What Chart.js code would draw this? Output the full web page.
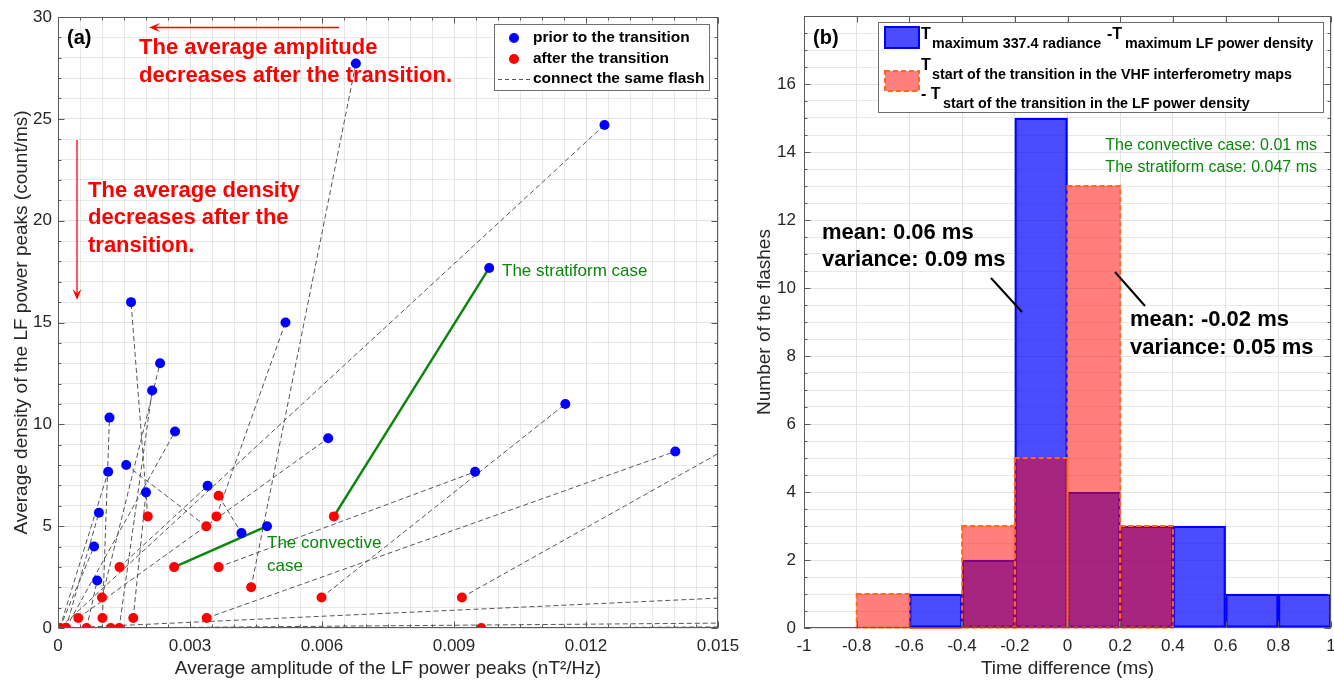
<!DOCTYPE html>
<html><head><meta charset="utf-8">
<script src="https://cdn.jsdelivr.net/npm/chart.js@4.4.1/dist/chart.umd.min.js"></script>
<style>
html,body{margin:0;padding:0;background:#fff;width:1334px;height:682px;overflow:hidden;}
#wa{position:absolute;left:0;top:0;width:740px;height:682px;}
#wb{position:absolute;left:740px;top:0;width:594px;height:682px;}
canvas{display:block;}
</style></head><body>
<div id="wa"><canvas id="ca" width="740" height="682"></canvas></div>
<div id="wb"><canvas id="cb" width="594" height="682"></canvas></div>
<script>
// ---------------- Panel (a) data: one entry per flash (after -> prior) ----------------
const redX  = [0.00627,0.00264,0.00439,0.00004,0.00204,0.00360,0.00100,0.00139,0.00101,0.00018,0.00046,0.00599,0.00338,0.00365,0.00337,0.00004,0.00171,0.00140,0.00018,0.00365,0.00004,0.00065,0.00918,0.00018,0.00120,0.00962];
const redY  = [5.48,2.99,2.0,0,5.48,5.48,1.5,0,0.49,0,0.49,1.5,0.49,2.99,4.99,0,0.49,2.99,0,6.49,0,0,1.5,0,0,0];
const blueX = [0.00980,0.00475,0.00677,0.01242,0.00166,0.00517,0.00232,0.00214,0.00117,0.00266,0.00614,0.01153,0.01403,0.00948,0.00155,0.00114,0.00200,0.00340,0.00093,0.00417,0.00082,0.00089,0.0180,0.0300,0.0300,0.0300];
const blueY = [17.68,5.0,27.72,24.7,16.0,15.0,13.0,11.66,10.33,9.65,9.32,11.0,8.67,7.67,8.0,7.67,6.66,6.98,5.66,4.66,4.0,2.33,12.2,2.95,0.5,0.2];
const caseFlashes = [0, 1];            // stratiform, convective (green)
const xTicksA = [0, 0.003, 0.006, 0.009, 0.012, 0.015];
const yTicksA = [0, 5, 10, 15, 20, 25, 30];

// ---------------- Panel (b) data ----------------
const binCenters = [-0.9,-0.7,-0.5,-0.3,-0.1,0.1,0.3,0.5,0.7,0.9];
const blueCounts = [null,null,1,2,15,4,3,3,1,1];
const redCounts  = [null,1,0,3,5,13,3,null,null,null];
const xTicksB = [-1,-0.8,-0.6,-0.4,-0.2,0,0.2,0.4,0.6,0.8,1];
const yTicksB = [0,2,4,6,8,10,12,14,16];

const FONT = "'Liberation Sans', Arial, Helvetica, sans-serif";
const AXIS = '#5a5a5a', TXT = '#262626';
const GMAJ = '#e2e2e2', GMIN = 'rgba(0,0,0,0.09)';
const GREEN = '#0a870a';

function setTicks(vals){ return s => { s.ticks = vals.map(v => ({value:v})); }; }
function fitW(w){ return s => { s.width = w; s.paddingTop = 0; s.paddingBottom = 0; s.paddingLeft = 0; s.paddingRight = 0; }; }
function fitH(h){ return s => { s.height = h; s.paddingLeft = 0; s.paddingRight = 0; s.paddingTop = 0; s.paddingBottom = 0; }; }

function minorAxis(axis, pos, min, max, step, majors){
  return { type:'linear', axis:axis, position:pos, min:min, max:max, display:true,
    ticks:{display:false, stepSize:step, autoSkip:false},
    border:{display:false},
    grid:{drawTicks:false, lineWidth:1, borderDash:[1,3],
      color: c => (majors.some(m => Math.abs(m - c.tick.value) < 1e-9) ? 'rgba(0,0,0,0)' : GMIN)},
    afterFit: axis === 'x' ? fitH(0) : fitW(0) };
}

function boxTicks(chart, spec){
  const ctx = chart.ctx, a = chart.chartArea;
  ctx.save();
  ctx.strokeStyle = AXIS; ctx.lineWidth = 1; ctx.setLineDash([]);
  const L = Math.round(a.left)+0.5, R = Math.round(a.right)-0.5, T = Math.round(a.top)+0.5, B = Math.round(a.bottom)-0.5;
  ctx.beginPath();
  spec.x.forEach(([id,len]) => { const s = chart.scales[id];
    s.ticks.forEach(t => { const p = Math.round(s.getPixelForValue(t.value))+0.5;
      ctx.moveTo(p,B); ctx.lineTo(p,B-len); ctx.moveTo(p,T); ctx.lineTo(p,T+len); }); });
  spec.y.forEach(([id,len]) => { const s = chart.scales[id];
    s.ticks.forEach(t => { const p = Math.round(s.getPixelForValue(t.value))+0.5;
      ctx.moveTo(L,p); ctx.lineTo(L+len,p); ctx.moveTo(R,p); ctx.lineTo(R-len,p); }); });
  ctx.stroke();
  ctx.strokeRect(L, T, R-L, B-T);
  ctx.restore();
}

function arrow(ctx, x1, y1, x2, y2, color){
  const ang = Math.atan2(y2-y1, x2-x1), hl = 11, hw = 4.5;
  ctx.save(); ctx.strokeStyle = color; ctx.fillStyle = color; ctx.lineWidth = 1.3;
  ctx.beginPath(); ctx.moveTo(x1,y1); ctx.lineTo(x2 - Math.cos(ang)*hl*0.6, y2 - Math.sin(ang)*hl*0.6); ctx.stroke();
  ctx.translate(x2,y2); ctx.rotate(ang);
  ctx.beginPath(); ctx.moveTo(0,0); ctx.lineTo(-hl,-hw); ctx.lineTo(-hl*0.6,0); ctx.lineTo(-hl,hw); ctx.closePath(); ctx.fill();
  ctx.restore();
}

function txt(ctx, s, x, y, font, color, align){
  ctx.font = font; ctx.fillStyle = color; ctx.textAlign = align || 'left'; ctx.textBaseline = 'middle';
  ctx.fillText(s, x, y);
}

// ---------------- Chart (a) ----------------
const lineSets = redX.map((rx, i) => {
  const hi = caseFlashes.includes(i);
  return { type:'scatter', showLine:true, data:[{x:rx, y:redY[i]}, {x:blueX[i], y:blueY[i]}],
    borderColor: hi ? GREEN : '#555555', borderWidth: hi ? 2.5 : 1, borderDash: hi ? [] : [5,3],
    pointRadius:0, pointHoverRadius:0, fill:false, order: hi ? 1 : 2 };
});
const bluePts = { type:'scatter', data: blueX.map((x,i)=>({x:x, y:blueY[i]})), pointRadius:5, pointBorderWidth:0,
  backgroundColor:'#0000ff', borderColor:'#0000ff', order:0 };
const redPts = { type:'scatter', data: redX.map((x,i)=>({x:x, y:redY[i]})), pointRadius:5, pointBorderWidth:0,
  backgroundColor:'#ff0000', borderColor:'#ff0000', order:0 };

const plugA = { id:'decorA',
  afterDraw(chart){
    const ctx = chart.ctx;
    boxTicks(chart, {x:[['x',6],['xm',3]], y:[['y',6],['ym',3]]});
    txt(ctx, '(a)', 67, 38, 'bold 20px '+FONT, '#000');
    arrow(ctx, 339, 27.5, 149, 27.5, '#ff0000');
    txt(ctx, 'The average amplitude', 139, 48, 'bold 22px '+FONT, '#ff0000');
    txt(ctx, 'decreases after the transition.', 139, 76, 'bold 22px '+FONT, '#ff0000');
    arrow(ctx, 77, 140, 77, 300, '#ff0000');
    txt(ctx, 'The average density', 88, 191, 'bold 22px '+FONT, '#ff0000');
    txt(ctx, 'decreases after the', 88, 218, 'bold 22px '+FONT, '#ff0000');
    txt(ctx, 'transition.', 88, 246, 'bold 22px '+FONT, '#ff0000');
    txt(ctx, 'The stratiform case', 502, 271, '17px '+FONT, GREEN);
    txt(ctx, 'The convective', 267, 543, '17px '+FONT, GREEN);
    txt(ctx, 'case', 267, 566, '17px '+FONT, GREEN);
    ctx.save();
    ctx.fillStyle = '#fff'; ctx.fillRect(494.5, 24.5, 215, 66);
    ctx.strokeStyle = '#6e6e6e'; ctx.lineWidth = 1; ctx.strokeRect(494.5, 24.5, 215, 66);
    ctx.fillStyle = '#0000ff'; ctx.beginPath(); ctx.arc(514, 38, 5, 0, Math.PI*2); ctx.fill();
    ctx.fillStyle = '#ff0000'; ctx.beginPath(); ctx.arc(514, 59, 5, 0, Math.PI*2); ctx.fill();
    ctx.strokeStyle = '#555555'; ctx.setLineDash([4,3]); ctx.beginPath(); ctx.moveTo(498, 79.5); ctx.lineTo(530, 79.5); ctx.stroke();
    ctx.restore();
    txt(ctx, 'prior to the transition', 533, 38, 'bold 15.5px '+FONT, '#000');
    txt(ctx, 'after the transition', 533, 59, 'bold 15.5px '+FONT, '#000');
    txt(ctx, 'connect the same flash', 533, 79, 'bold 15.5px '+FONT, '#000');
  }
};

new Chart(document.getElementById('ca'), {
  type:'scatter',
  data:{ datasets: [...lineSets, bluePts, redPts] },
  options:{
    responsive:false, animation:false, events:[],
    layout:{padding:{left:0, top:17, right:22, bottom:0}},
    plugins:{legend:{display:false}, tooltip:{enabled:false}},
    scales:{
      xm: minorAxis('x','bottom',0,0.015,0.0005, xTicksA),
      ym: minorAxis('y','left',0,30,1, yTicksA),
      x:{ type:'linear', position:'bottom', min:0, max:0.015,
        afterBuildTicks: setTicks(xTicksA), afterFit: fitH(54),
        ticks:{autoSkip:false, maxRotation:0, padding:8, color:TXT, font:{family:FONT, size:17}, callback:v=>String(v)},
        grid:{color:GMAJ, drawTicks:false, lineWidth:1}, border:{display:false},
        title:{display:true, text:'Average amplitude of the LF power peaks (nT\u00B2/Hz)', color:TXT, font:{family:FONT, size:19}, padding:{top:0,bottom:2}} },
      y:{ type:'linear', position:'left', min:0, max:30,
        afterBuildTicks: setTicks(yTicksA), afterFit: fitW(58),
        ticks:{autoSkip:false, padding:6, color:TXT, font:{family:FONT, size:17}, callback:v=>String(v)},
        grid:{color:GMAJ, drawTicks:false, lineWidth:1}, border:{display:false},
        title:{display:true, text:'Average density of the LF power peaks (count/ms)', color:TXT, font:{family:FONT, size:19}, padding:{top:10,bottom:0}} }
    }
  },
  plugins:[plugA]
});

// ---------------- Chart (b) ----------------
const plugB = { id:'decorB',
  afterDatasetsDraw(chart){
    const ctx = chart.ctx;
    const meta = chart.getDatasetMeta(1);
    ctx.save(); ctx.strokeStyle = '#ff6a1a'; ctx.lineWidth = 2; ctx.setLineDash([5,3]);
    meta.data.forEach((el, i) => {
      if (redCounts[i] === null) return;
      const p = el.getProps(['x','y','base','width'], true);
      if (!isFinite(p.y) || !isFinite(p.x)) return;
      ctx.strokeRect(p.x - p.width/2, Math.min(p.y, p.base), p.width, Math.abs(p.base - p.y));
    });
    ctx.restore();
  },
  afterDraw(chart){
    const ctx = chart.ctx;
    boxTicks(chart, {x:[['x',6]], y:[['y',6],['ym',3]]});
    ctx.save(); ctx.translate(-740, 0);
    txt(ctx, '(b)', 813, 38, 'bold 20px '+FONT, '#000');
    ctx.fillStyle = '#fff'; ctx.fillRect(878.5, 22.5, 445, 90);
    ctx.strokeStyle = '#6e6e6e'; ctx.lineWidth = 1; ctx.strokeRect(878.5, 22.5, 445, 90);
    ctx.fillStyle = 'rgba(0,0,255,0.7)'; ctx.fillRect(885, 27, 34, 21);
    ctx.strokeStyle = '#0000ff'; ctx.lineWidth = 2; ctx.strokeRect(885, 27, 34, 21);
    ctx.fillStyle = 'rgba(255,0,0,0.5)'; ctx.fillRect(885, 71, 34, 20);
    ctx.strokeStyle = '#ff6a1a'; ctx.setLineDash([5,3]); ctx.strokeRect(885, 71, 34, 20); ctx.setLineDash([]);
    ctx.fillStyle = '#000'; ctx.textAlign = 'left'; ctx.textBaseline = 'alphabetic';
    const big = 'bold 16px '+FONT, sub = 'bold 14.3px '+FONT;
    ctx.font = big; ctx.fillText('T', 921, 39);
    ctx.font = sub; ctx.fillText('maximum 337.4 radiance', 932, 48);
    ctx.font = big; ctx.fillText('-T', 1107, 39);
    ctx.font = sub; ctx.fillText('maximum LF power density', 1125, 48);
    ctx.font = big; ctx.fillText('T', 921, 70);
    ctx.font = sub; ctx.fillText('start of the transition in the VHF interferometry maps', 932, 79);
    ctx.font = big; ctx.fillText('- T', 921, 99);
    ctx.font = sub; ctx.fillText('start of the transition in the LF power density', 943, 108);
    txt(ctx, 'The convective case: 0.01 ms', 1317, 146, '16px '+FONT, GREEN, 'right');
    txt(ctx, 'The stratiform case: 0.047 ms', 1317, 168, '16px '+FONT, GREEN, 'right');
    txt(ctx, 'mean: 0.06 ms', 822, 233, 'bold 22px '+FONT, '#000');
    txt(ctx, 'variance: 0.09 ms', 822, 260, 'bold 22px '+FONT, '#000');
    txt(ctx, 'mean: -0.02 ms', 1130, 320, 'bold 22px '+FONT, '#000');
    txt(ctx, 'variance: 0.05 ms', 1130, 348, 'bold 22px '+FONT, '#000');
    ctx.strokeStyle = '#000'; ctx.lineWidth = 2;
    ctx.beginPath(); ctx.moveTo(991, 278); ctx.lineTo(1022, 312); ctx.moveTo(1115, 272); ctx.lineTo(1145, 306); ctx.stroke();
    ctx.restore();
  }
};

new Chart(document.getElementById('cb'), {
  type:'bar',
  data:{ datasets:[
    { label:'blue', data: binCenters.map((c,i)=>({x:c, y:blueCounts[i]})), backgroundColor:'rgba(0,0,255,0.7)',
      borderColor:'#0000ff', borderWidth:1.6, borderSkipped:false, grouped:false, barPercentage:1, categoryPercentage:1, order:1 },
    { label:'red', data: binCenters.map((c,i)=>({x:c, y:redCounts[i]})), backgroundColor:'rgba(255,0,0,0.5)',
      borderWidth:0, grouped:false, barPercentage:1, categoryPercentage:1, order:0 }
  ]},
  options:{
    responsive:false, animation:false, events:[],
    layout:{padding:{left:0, top:16, right:3, bottom:0}},
    plugins:{legend:{display:false}, tooltip:{enabled:false}},
    scales:{
      ym: minorAxis('y','left',0,18,0.5, [0,2,4,6,8,10,12,14,16,18]),
      x:{ type:'linear', position:'bottom', min:-1, max:1, offset:false,
        afterBuildTicks: setTicks(xTicksB), afterFit: fitH(54),
        ticks:{autoSkip:false, maxRotation:0, padding:8, color:TXT, font:{family:FONT, size:17}, callback:v=>String(v)},
        grid:{color:GMAJ, drawTicks:false, lineWidth:1, offset:false}, border:{display:false},
        title:{display:true, text:'Time difference (ms)', color:TXT, font:{family:FONT, size:19}, padding:{top:0,bottom:2}} },
      y:{ type:'linear', position:'left', min:0, max:18,
        afterBuildTicks: setTicks(yTicksB), afterFit: fitW(64),
        ticks:{autoSkip:false, padding:8, color:TXT, font:{family:FONT, size:17}, callback:v=>String(v)},
        grid:{color:GMAJ, drawTicks:false, lineWidth:1}, border:{display:false},
        title:{display:true, text:'Number of the flashes', color:TXT, font:{family:FONT, size:19}, padding:{top:13,bottom:0}} }
    }
  },
  plugins:[plugB]
});
</script>
</body></html>
